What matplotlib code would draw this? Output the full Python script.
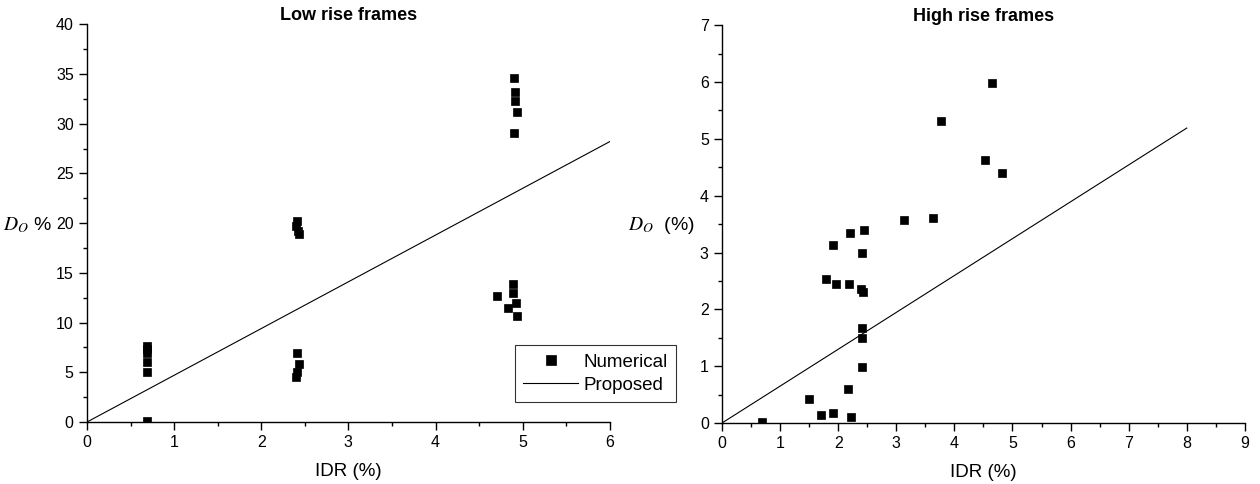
import matplotlib.pyplot as plt
from matplotlib.ticker import MultipleLocator

plt.rcParams['font.family'] = ['Liberation Sans', 'DejaVu Sans']

# low rise frames
low_idr = [0.69, 0.69, 0.69, 0.69, 0.69, 0.69,
           2.41, 2.40, 2.42, 2.43, 2.41, 2.43, 2.41, 2.40,
           4.90, 4.91, 4.91, 4.94, 4.90,
           4.89, 4.89, 4.71, 4.92, 4.83, 4.93]
low_do = [0.1, 5.0, 6.0, 6.9, 7.3, 7.6,
          20.2, 19.7, 19.2, 18.9, 6.9, 5.8, 5.0, 4.5,
          34.6, 33.2, 32.3, 31.2, 29.1,
          13.9, 13.0, 12.7, 12.0, 11.5, 10.7]
low_line_x = [0, 6]
low_line_y = [0, 28.2]

# high rise frames
high_idr = [0.69, 1.49, 1.70, 1.91, 2.22, 2.17, 2.41, 2.41, 2.41, 2.42, 2.40,
            2.18, 1.97, 1.79, 2.41, 1.91, 2.20, 2.45, 3.14, 3.64, 3.77,
            4.53, 4.82, 4.65]
high_do = [0.02, 0.42, 0.14, 0.17, 0.11, 0.59, 0.98, 1.50, 1.68, 2.30, 2.36,
           2.45, 2.45, 2.54, 3.00, 3.13, 3.35, 3.39, 3.57, 3.61, 5.32,
           4.62, 4.40, 5.98]
high_line_x = [0, 8]
high_line_y = [0, 5.19]

fig = plt.figure(figsize=(12.6, 4.84), dpi=100)
ax1 = fig.add_axes([0.069, 0.128, 0.415, 0.822])
ax2 = fig.add_axes([0.573, 0.126, 0.415, 0.822])


def style(ax):
    for s in ['top', 'right']:
        ax.spines[s].set_visible(False)
    for s in ['left', 'bottom']:
        ax.spines[s].set_linewidth(1.0)
    ax.tick_params(which='both', direction='out', labelsize=11.5, width=1.0)
    ax.tick_params(which='major', length=6)
    ax.tick_params(which='minor', length=3)
    ax.set_xlabel('IDR (%)', fontsize=13.5, labelpad=9)


ax1.plot(low_idr, low_do, 's', color='black', ms=5.5, mew=0.5, label='Numerical')
ax1.plot(low_line_x, low_line_y, '-', color='black', lw=0.8, label='Proposed')
ax1.set_xlim(0, 6)
ax1.set_ylim(0, 40)
ax1.xaxis.set_major_locator(MultipleLocator(1))
ax1.xaxis.set_minor_locator(MultipleLocator(0.5))
ax1.yaxis.set_major_locator(MultipleLocator(5))
ax1.yaxis.set_minor_locator(MultipleLocator(2.5))
style(ax1)
ax1.set_title('Low rise frames', fontsize=13, fontweight='bold', pad=3)
ax1.set_ylabel(r'$D_{O}$ %', fontsize=14, rotation=0, ha='right', va='center',
               math_fontfamily='stix')
ax1.yaxis.set_label_coords(-0.066, 0.495)
leg = ax1.legend(loc='lower left', bbox_to_anchor=(515 / 1260, 82 / 484),
                 bbox_transform=fig.transFigure, borderaxespad=0,
                 fontsize=13.5, frameon=True, fancybox=False, edgecolor='black',
                 handlelength=2.9, handletextpad=0.3, borderpad=0.45,
                 labelspacing=0.3, markerscale=1.3)
leg.get_frame().set_linewidth(0.8)

ax2.plot(high_idr, high_do, 's', color='black', ms=5.5, mew=0.5)
ax2.plot(high_line_x, high_line_y, '-', color='black', lw=0.8)
ax2.set_xlim(0, 9)
ax2.set_ylim(0, 7)
ax2.xaxis.set_major_locator(MultipleLocator(1))
ax2.xaxis.set_minor_locator(MultipleLocator(0.5))
ax2.yaxis.set_major_locator(MultipleLocator(1))
ax2.yaxis.set_minor_locator(MultipleLocator(0.5))
style(ax2)
ax2.set_title('High rise frames', fontsize=13, fontweight='bold', pad=3)
ax2.set_ylabel(r'$D_{O}$  (%)', fontsize=14, rotation=0, ha='right', va='center',
               math_fontfamily='stix')
ax2.yaxis.set_label_coords(-0.052, 0.497)

fig.savefig('out.png', dpi=100)
